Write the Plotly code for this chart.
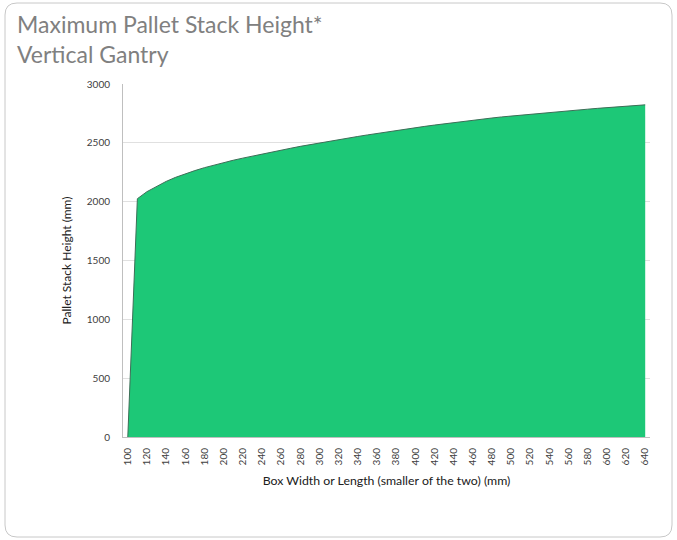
import plotly.graph_objects as go

box_width = list(range(100, 650, 10))
stack_height = [0, 2025, 2085, 2130, 2172, 2207, 2238, 2264, 2289, 2312,
                2334, 2352, 2370, 2388, 2405, 2422, 2438, 2454, 2470, 2485,
                2500, 2514, 2528, 2541, 2554, 2567, 2580, 2592, 2604, 2616,
                2628, 2640, 2651, 2662, 2673, 2684, 2694, 2703, 2711, 2720,
                2728, 2736, 2744, 2752, 2759, 2766, 2773, 2780, 2786, 2793,
                2799, 2805, 2811, 2817, 2823]
x_ticks = list(range(100, 641, 20))
y_ticks = [0, 500, 1000, 1500, 2000, 2500, 3000]

W, H = 677, 540
L, R, T, B = 123, 650, 84, 437

fig = go.Figure()
fig.add_trace(go.Scatter(
    x=box_width, y=stack_height, mode="lines", fill="tozeroy",
    fillcolor="#1dc877", line=dict(color="#3d6e57", width=1),
    hoverinfo="x+y", showlegend=False))

def px_x(p):
    return (p - L) / (R - L)

def px_y(p):
    return (B - p) / (B - T)

x0, x1, y0, y1, r = 5, 672, 3, 537, 12
path = (f"M {px_x(x0+r)} {px_y(y0)} L {px_x(x1-r)} {px_y(y0)} "
        f"Q {px_x(x1)} {px_y(y0)} {px_x(x1)} {px_y(y0+r)} "
        f"L {px_x(x1)} {px_y(y1-r)} Q {px_x(x1)} {px_y(y1)} {px_x(x1-r)} {px_y(y1)} "
        f"L {px_x(x0+r)} {px_y(y1)} Q {px_x(x0)} {px_y(y1)} {px_x(x0)} {px_y(y1-r)} "
        f"L {px_x(x0)} {px_y(y0+r)} Q {px_x(x0)} {px_y(y0)} {px_x(x0+r)} {px_y(y0)} Z")
fig.add_shape(type="path", path=path, xref="paper", yref="paper",
              line=dict(color="#c8c8c8", width=1), layer="below")

fig.add_annotation(text="Maximum Pallet Stack Height*<br>Vertical Gantry",
                   xref="paper", yref="paper", x=px_x(15), y=px_y(8),
                   xanchor="left", yanchor="top", align="left", showarrow=False,
                   font=dict(family="Lato, Open Sans, sans-serif", size=23, color="#808080"))

fig.update_layout(
    width=W, height=H,
    margin=dict(l=L, r=W - R, t=T, b=H - B),
    paper_bgcolor="white", plot_bgcolor="white",
    font=dict(family="Lato, Open Sans, sans-serif", color="#404040"),
    xaxis=dict(range=[95, 645], tickvals=x_ticks, ticktext=[str(v) for v in x_ticks],
               tickangle=-90, tickfont=dict(size=10, color="#404040"),
               showgrid=False, zeroline=False, showline=True, linecolor="#bfbfbf",
               linewidth=1, ticks="", ticklabelstandoff=6,
               title=dict(text="Box Width or Length (smaller of the two) (mm)",
                          font=dict(size=12.3, color="#202020"), standoff=11)),
    yaxis=dict(range=[0, 3000], tickvals=y_ticks, tickfont=dict(size=10, color="#404040"),
               showgrid=True, gridcolor="#e0e0e0", zeroline=False, showline=True,
               linecolor="#bfbfbf", linewidth=1, ticks="", ticklabelstandoff=10,
               title=dict(text="Pallet Stack Height (mm)",
                          font=dict(size=12, color="#202020"), standoff=12)),
)

fig.write_html("out.html", config={"displayModeBar": False},
               post_script="document.body.style.margin='0px';")
